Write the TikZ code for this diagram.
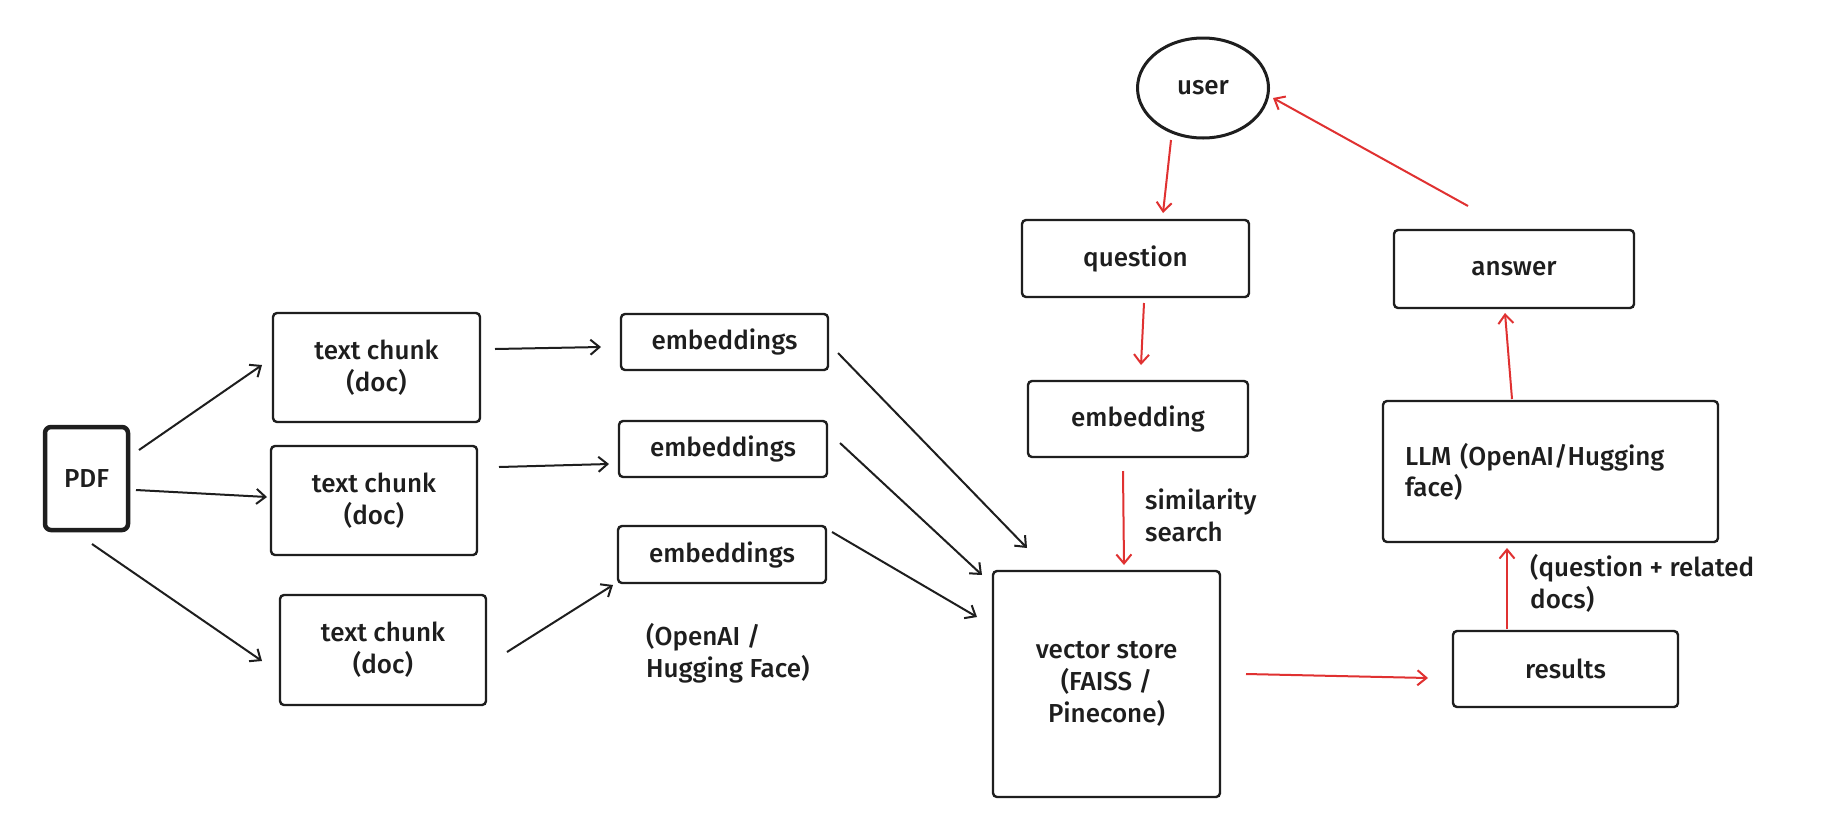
\documentclass[tikz,border=0pt]{standalone}
\usepackage{fontspec}
\setmainfont{Fira Sans Medium}
\usetikzlibrary{arrows.meta,shapes.geometric}
\definecolor{ink}{HTML}{1E1E1E}
\definecolor{redl}{HTML}{E03131}
\begin{document}
\begin{tikzpicture}[x=1pt,y=-1pt,
  every node/.style={font=\fontsize{26}{32}\selectfont, text=ink},
  box/.style={draw=ink, line width=2.4pt, rounded corners=4pt, inner sep=0pt, align=center},
  arr/.style={draw=ink, line width=2pt, -{Straight Barb[length=9pt,width=15pt,line width=2pt]}},
  rarr/.style={draw=redl, line width=2pt, -{Straight Barb[length=9pt,width=15pt,line width=2pt]}},
  lbl/.style={align=left, inner sep=0pt, anchor=west}]
\fill[white] (0,0) rectangle (1823,836);
\useasboundingbox (0,0) rectangle (1823,836);

% left pipeline
\node[box, line width=4.5pt, rounded corners=6pt, minimum width=83pt, minimum height=103pt] (pdf) at (86.5,478.5) {PDF};
\node[box, minimum width=207pt, minimum height=109pt] (tc1) at (376.5,367.5) {text chunk\\(doc)};
\node[box, minimum width=206pt, minimum height=109pt] (tc2) at (374,500.5) {text chunk\\(doc)};
\node[box, minimum width=206pt, minimum height=110pt] (tc3) at (383,650) {text chunk\\(doc)};
\node[box, minimum width=207pt, minimum height=56pt] (emb1) at (724.5,342) {embeddings};
\node[box, minimum width=208pt, minimum height=56pt] (emb2) at (723,449) {embeddings};
\node[box, minimum width=208pt, minimum height=57pt] (emb3) at (722,554.5) {embeddings};
\node[lbl] (prov) at (646,653) {(OpenAI /\\Hugging Face)};

% center / right
\node[box, minimum width=227pt, minimum height=226pt] (vs) at (1106.5,684) {vector store\\(FAISS /\\Pinecone)};
\node[draw=ink, line width=3pt, ellipse, minimum width=131pt, minimum height=100pt, inner sep=0pt] (user) at (1203,88) {user};
\node[box, minimum width=227pt, minimum height=77pt] (question) at (1135.5,258.5) {question};
\node[box, minimum width=220pt, minimum height=76pt] (embedding) at (1138,419) {embedding};
\node[lbl] (sim) at (1145,515) {similarity\\search};
\node[box, minimum width=240pt, minimum height=78pt] (answer) at (1514,269) {answer};
\node[box, minimum width=335pt, minimum height=141pt, text width=291pt, align=left, font=\fontsize{26}{31}\selectfont] (llm) at (1550.5,471.5) {LLM (OpenAI/Hugging\\face)};
\node[box, minimum width=225pt, minimum height=76pt] (results) at (1565.5,669) {results};
\node[lbl] (qrd) at (1530,583.5) {(question + related\\docs)};

% black connectors
\draw[arr] ([shift={(52.5,-28.5)}]pdf.center) -- ([shift={(-114.5,-2.5)}]tc1.center);
\draw[arr] ([shift={(49.5,11.5)}]pdf.center) -- ([shift={(-107,-3.5)}]tc2.center);
\draw[arr] ([shift={(5.5,65.5)}]pdf.center) -- ([shift={(-121,11)}]tc3.center);
\draw[arr] ([shift={(118.5,-18.5)}]tc1.center) -- ([shift={(-123.5,5)}]emb1.center);
\draw[arr] ([shift={(125,-33.5)}]tc2.center) -- ([shift={(-114,15)}]emb2.center);
\draw[arr] ([shift={(124,2)}]tc3.center) -- ([shift={(-109,30.5)}]emb3.center);
\draw[arr] ([shift={(113.5,11)}]emb1.center) -- ([shift={(-79.5,-136)}]vs.center);
\draw[arr] ([shift={(117,-6)}]emb2.center) -- ([shift={(-124.5,-109)}]vs.center);
\draw[arr] ([shift={(110,-22.5)}]emb3.center) -- ([shift={(-129.5,-67)}]vs.center);

% red connectors
\draw[rarr] ([shift={(-32,52)}]user.center) -- ([shift={(27.5,-45.5)}]question.center);
\draw[rarr] ([shift={(8.5,44.5)}]question.center) -- ([shift={(3,-54)}]embedding.center);
\draw[rarr] ([shift={(-15,52)}]embedding.center) -- ([shift={(17.5,-119)}]vs.center);
\draw[rarr] ([shift={(139.5,-10)}]vs.center) -- ([shift={(-137.5,9)}]results.center);
\draw[rarr] ([shift={(-58.5,-40)}]results.center) -- ([shift={(-43.5,76.5)}]llm.center);
\draw[rarr] ([shift={(-38.5,-72.5)}]llm.center) -- ([shift={(-9,44)}]answer.center);
\draw[rarr] ([shift={(-46,-63)}]answer.center) -- ([shift={(70,10)}]user.center);
\end{tikzpicture}
\end{document}
